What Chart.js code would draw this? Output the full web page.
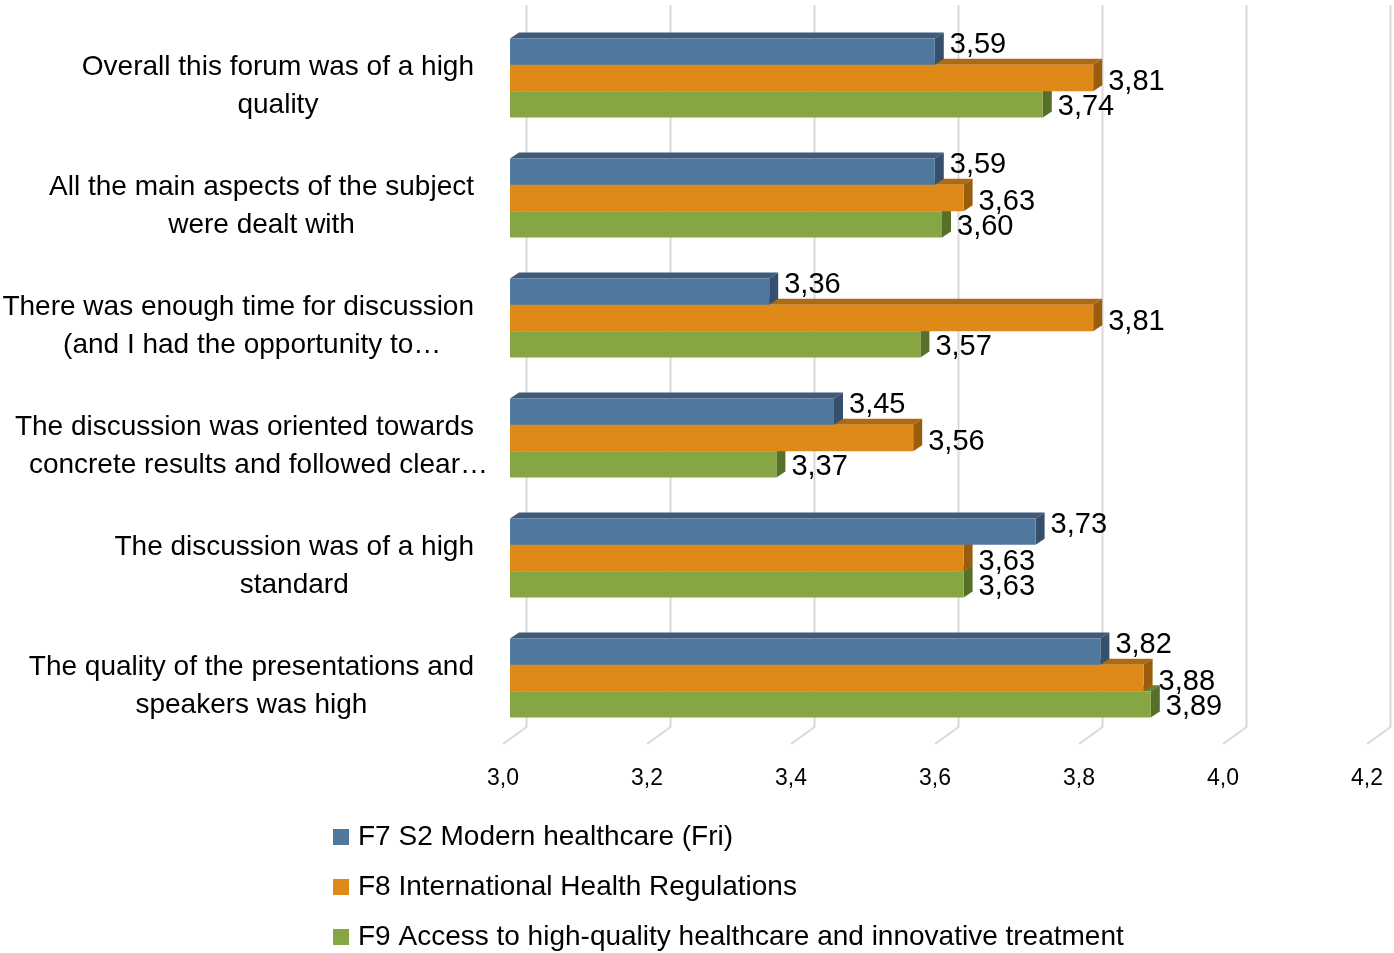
<!DOCTYPE html>
<html lang="en">
  <head>
    <meta charset="UTF-8" />
    <title>Forum evaluation</title>
    <script src="https://cdn.jsdelivr.net/npm/chart.js"></script>
    <style>
      * {
        margin: 0;
        padding: 0;
        box-sizing: border-box;
      }
      body {
        background: #ffffff;
        font-family: "Liberation Sans", Arial, sans-serif;
      }
      #chart {
        display: block;
      }
    </style>
  </head>
  <body>
    <canvas id="chart" width="1394" height="953"></canvas>

    <script>
      // question labels, one entry per line
      var categories = [
        ["Overall this forum was of a high", "quality"],
        ["All the main aspects of the subject", "were dealt with"],
        ["There was enough time for discussion", "(and I had the opportunity to…"],
        ["The discussion was oriented towards", "concrete results and followed clear…"],
        ["The discussion was of a high", "standard"],
        ["The quality of the presentations and", "speakers was high"],
      ];

      var seriesNames = [
        "F7 S2 Modern healthcare (Fri)",
        "F8 International Health Regulations",
        "F9 Access to high-quality healthcare and innovative treatment",
      ];

      var f7Values = [3.59, 3.59, 3.36, 3.45, 3.73, 3.82];
      var f8Values = [3.81, 3.63, 3.81, 3.56, 3.63, 3.88];
      var f9Values = [3.74, 3.6, 3.57, 3.37, 3.63, 3.89];

      var tickValues = [3.0, 3.2, 3.4, 3.6, 3.8, 4.0, 4.2];

      // colours: front face, top face, side face
      var frontColors = ["#50789F", "#DF8A18", "#86A543"];
      var topColors = ["#3E5B7B", "#AE6A12", "#66822F"];
      var sideColors = ["#354F6C", "#9A5D0E", "#56702A"];

      var FONT = "'Liberation Sans', Arial, sans-serif";
      var DX = 9; // 3d depth
      var DY = 6;

      function fmt(v) {
        return v.toFixed(2).replace(".", ",");
      }

      // floor + back wall grid lines in 3d
      var gridPlugin = {
        id: "grid3d",
        beforeDatasetsDraw: function (chart) {
          var ctx = chart.ctx;
          var xs = chart.scales.x;
          var bottom = chart.chartArea.bottom;
          ctx.save();
          ctx.strokeStyle = "#D9D9D9";
          ctx.lineWidth = 2;
          tickValues.forEach(function (v) {
            var px = xs.getPixelForValue(v);
            ctx.beginPath();
            ctx.moveTo(px + 16.5, 5);
            ctx.lineTo(px + 16.5, bottom - 11);
            ctx.lineTo(px - 7, bottom + 6);
            ctx.stroke();
          });
          ctx.restore();
        },
      };

      // top + side faces drawn before each dataset's front faces
      var barPlugin = {
        id: "bars3d",
        beforeDatasetDraw: function (chart, args) {
          var ctx = chart.ctx;
          var i = args.index;
          ctx.save();
          args.meta.data.forEach(function (bar) {
            var p = bar.getProps(["x", "y", "base", "height"], true);
            var x0 = p.base;
            var x1 = p.x;
            var top = p.y - p.height / 2;
            var bottom = p.y + p.height / 2;
            ctx.fillStyle = topColors[i];
            ctx.beginPath();
            ctx.moveTo(x0, top);
            ctx.lineTo(x0 + DX, top - DY);
            ctx.lineTo(x1 + DX, top - DY);
            ctx.lineTo(x1, top);
            ctx.closePath();
            ctx.fill();
            ctx.fillStyle = sideColors[i];
            ctx.beginPath();
            ctx.moveTo(x1, top);
            ctx.lineTo(x1 + DX, top - DY);
            ctx.lineTo(x1 + DX, bottom - DY);
            ctx.lineTo(x1, bottom);
            ctx.closePath();
            ctx.fill();
          });
          ctx.restore();
        },
        afterDatasetsDraw: function (chart) {
          var ctx = chart.ctx;
          var yOffsets = [-7, 3.5, 3];
          ctx.save();
          ctx.font = "29px " + FONT;
          ctx.fillStyle = "#000000";
          ctx.textAlign = "left";
          ctx.textBaseline = "middle";
          chart.data.datasets.forEach(function (ds, i) {
            chart.getDatasetMeta(i).data.forEach(function (bar, j) {
              ctx.fillText(fmt(ds.data[j]), bar.x + 15, bar.y + yOffsets[i]);
            });
          });
          ctx.restore();
        },
      };

      // category labels: block right aligned, lines centred in the block
      var labelPlugin = {
        id: "catLabels",
        afterDraw: function (chart) {
          var ctx = chart.ctx;
          var ys = chart.scales.y;
          ctx.save();
          ctx.font = "28px " + FONT;
          ctx.fillStyle = "#000000";
          ctx.textAlign = "left";
          ctx.textBaseline = "middle";
          categories.forEach(function (lines, i) {
            var widths = lines.map(function (l) {
              return ctx.measureText(l.replace(/…$/, "")).width;
            });
            var blockW = Math.max.apply(null, widths);
            var cx = 474 - blockW / 2;
            var cy = ys.getPixelForValue(i) + 8;
            lines.forEach(function (l, k) {
              var y = cy + (k - (lines.length - 1) / 2) * 38;
              ctx.fillText(l, cx - widths[k] / 2, y);
            });
          });

          // legend, one entry per row
          seriesNames.forEach(function (name, i) {
            var y = 837 + i * 50;
            ctx.fillStyle = frontColors[i];
            ctx.fillRect(333, y - 8, 16, 16);
            ctx.fillStyle = "#000000";
            ctx.fillText(name, 358, y);
          });
          ctx.restore();
        },
      };

      var datasets = [f7Values, f8Values, f9Values].map(function (vals, i) {
        return {
          label: seriesNames[i],
          data: vals,
          base: 3,
          backgroundColor: frontColors[i],
          borderWidth: 0,
          categoryPercentage: 0.66,
          barPercentage: 1.0,
        };
      });

      new Chart(document.getElementById("chart").getContext("2d"), {
        type: "bar",
        data: {
          labels: categories,
          datasets: datasets,
        },
        options: {
          indexAxis: "y",
          responsive: false,
          animation: false,
          layout: {
            padding: { left: 510, right: 20, top: 18, bottom: 162 },
          },
          plugins: {
            legend: { display: false },
            tooltip: { enabled: false },
          },
          scales: {
            x: {
              min: 3,
              max: 4.2,
              afterBuildTicks: function (scale) {
                scale.ticks = tickValues.map(function (v) {
                  return { value: v };
                });
              },
              afterFit: function (scale) {
                scale.height = 53;
                scale.paddingLeft = 0;
                scale.paddingRight = 0;
              },
              grid: { display: false, drawTicks: false },
              border: { display: false },
              ticks: {
                padding: 27,
                labelOffset: -7,
                maxRotation: 0,
                autoSkip: false,
                color: "#000000",
                font: { size: 23, family: FONT },
                callback: function (v) {
                  return v.toFixed(1).replace(".", ",");
                },
              },
            },
            y: {
              display: false,
            },
          },
        },
        plugins: [gridPlugin, barPlugin, labelPlugin],
      });
    </script>
  </body>
</html>
